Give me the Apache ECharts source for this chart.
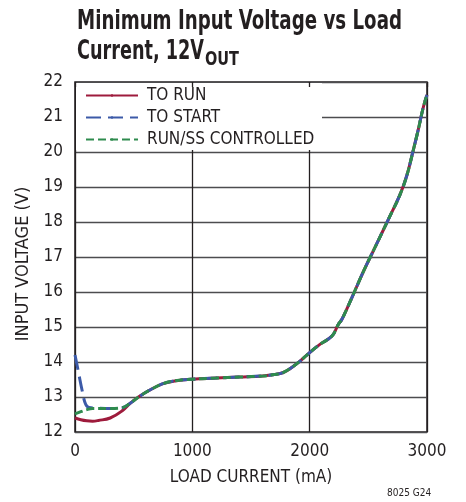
<!DOCTYPE html>
<html><head><meta charset="utf-8">
<script src="https://cdn.jsdelivr.net/npm/echarts@6/dist/echarts.min.js"></script>
<style>html,body{margin:0;padding:0;background:#fff}#c{width:466px;height:502px}</style>
</head><body><div id="c"></div>
<script>
// Low-current segments (mA, V) for each curve
var runCurrent   = [0, 50, 100, 150, 200, 300, 400];
var runVolts     = [12.40, 12.35, 12.32, 12.31, 12.33, 12.40, 12.60];
var startCurrent = [0, 30, 60, 90, 120, 200, 300, 400];
var startVolts   = [14.20, 13.70, 13.20, 12.80, 12.70, 12.68, 12.67, 12.69];
var ssCurrent    = [0, 50, 100, 150, 200, 300, 400];
var ssVolts      = [12.52, 12.58, 12.64, 12.67, 12.67, 12.67, 12.69];
// Shared upper segment (all three curves coincide)
var sharedCurrent = [470, 550, 650, 750, 850, 1000, 1200, 1400, 1600, 1700, 1775, 1850, 1920, 2000, 2090, 2190, 2245, 2275, 2360, 2460, 2565, 2670, 2770, 2830, 2880, 2925, 2970, 3000];
var sharedVolts   = [12.82, 13.02, 13.22, 13.38, 13.46, 13.51, 13.54, 13.57, 13.60, 13.64, 13.70, 13.85, 14.03, 14.27, 14.51, 14.74, 15.08, 15.22, 15.84, 16.60, 17.33, 18.07, 18.78, 19.35, 20.01, 20.63, 21.30, 21.63];
var seriesNames = ['TO RUN', 'TO START', 'RUN/SS CONTROLLED'];
var xTicks = [0, 1000, 2000, 3000];
var yTicks = [12, 13, 14, 15, 16, 17, 18, 19, 20, 21, 22];
var titleLine1 = 'Minimum Input Voltage vs Load';
var titleLine2 = 'Current, 12V';
var titleSub = 'OUT';

function pairs(xs, ys) {
  var out = [];
  for (var i = 0; i < xs.length; i++) out.push([xs[i], ys[i]]);
  for (var j = 0; j < sharedCurrent.length; j++) out.push([sharedCurrent[j], sharedVolts[j]]);
  return out;
}
var FONT = "'DejaVu Sans Condensed','Liberation Sans',sans-serif";
var FAM = "DejaVu Sans Condensed";
var ctx = document.createElement('canvas').getContext('2d');
function fitScale(text, font, target) {
  ctx.font = font;
  return target / ctx.measureText(text).width;
}
var f1 = 'bold 26px "' + FAM + '"';
var f2 = 'bold 19px "' + FAM + '"';
var s1 = fitScale(titleLine1, f1, 325);
var s2 = fitScale(titleLine2, f1, 127);
var s3 = fitScale(titleSub, f2, 34);

var chart = echarts.init(document.getElementById('c'));
chart.setOption({
  animation: false,
  backgroundColor: '#fff',
  legend: {
    orient: 'vertical', left: 85, top: 87, padding: 0,
    itemWidth: 52, itemHeight: 3, itemGap: 5,
    data: seriesNames,
    textStyle: {fontFamily: FONT, fontSize: 17, color: '#231f20', padding: [0, 0, 0, 4]}
  },
  grid: {left: 75, right: 39, top: 82, bottom: 70, show: true, borderColor: '#231f20', borderWidth: 1.5, backgroundColor: 'transparent'},
  graphic: [
    {type: 'rect', z: 1, shape: {x: 76, y: 83, width: 246, height: 67}, style: {fill: '#fff'}},
    {type: 'text', x: 77, y: 9, scaleX: s1, style: {text: titleLine1, font: f1, fill: '#231f20', textVerticalAlign: 'top'}},
    {type: 'text', x: 77, y: 39, scaleX: s2, style: {text: titleLine2, font: f1, fill: '#231f20', textVerticalAlign: 'top'}},
    {type: 'text', x: 205, y: 51, scaleX: s3, style: {text: titleSub, font: f2, fill: '#231f20', textVerticalAlign: 'top'}},
    {type: 'text', left: 387, top: 488, style: {text: '8025 G24', fontFamily: FONT, fontSize: 10, fill: '#231f20'}}
  ],
  xAxis: [{
    type: 'value', min: xTicks[0], max: xTicks[xTicks.length - 1], interval: 1000, z: 0,
    name: 'LOAD CURRENT (mA)', nameLocation: 'middle', nameGap: 37,
    nameTextStyle: {fontFamily: FONT, fontSize: 17, color: '#231f20'},
    axisLine: {show: false}, axisTick: {show: false},
    axisLabel: {margin: 11, fontFamily: FONT, fontSize: 17, color: '#231f20', formatter: function (v) { return String(v); }},
    splitLine: {show: true, lineStyle: {color: '#231f20', width: 1.3}}
  }, {
    type: 'value', position: 'top', min: xTicks[0], max: xTicks[xTicks.length - 1], interval: 1000, z: 10,
    axisLine: {show: false}, axisLabel: {show: false}, splitLine: {show: false},
    axisTick: {show: true, inside: true, length: 5, lineStyle: {color: '#231f20', width: 1.3}}
  }],
  yAxis: {
    type: 'value', min: yTicks[0], max: yTicks[yTicks.length - 1], interval: 1, z: 0,
    name: 'INPUT VOLTAGE (V)', nameLocation: 'middle', nameGap: 41,
    nameTextStyle: {fontFamily: FONT, fontSize: 18, color: '#231f20', padding: [0, 14, 0, 0]},
    axisLine: {show: false}, axisTick: {show: false},
    axisLabel: {margin: 12, fontFamily: FONT, fontSize: 17, color: '#231f20'},
    splitLine: {show: true, lineStyle: {color: '#4d4d4f', width: 1.3}}
  },
  series: [
    {name: seriesNames[0], type: 'line', smooth: 0.4, showSymbol: false, symbol: 'none', z: 2,
     data: pairs(runCurrent, runVolts), color: '#9e1b3c', lineStyle: {color: '#9e1b3c', width: 3}},
    {name: seriesNames[1], type: 'line', smooth: 0.4, showSymbol: false, symbol: 'none', z: 3,
     data: pairs(startCurrent, startVolts), color: '#3c5aa8', lineStyle: {color: '#3c5aa8', width: 3, type: [15, 7]}},
    {name: seriesNames[2], type: 'line', smooth: 0.4, showSymbol: false, symbol: 'none', z: 4,
     data: pairs(ssCurrent, ssVolts), color: '#2e8b4e', lineStyle: {color: '#2e8b4e', width: 3, type: [8, 4]}}
  ]
});
</script></body></html>
